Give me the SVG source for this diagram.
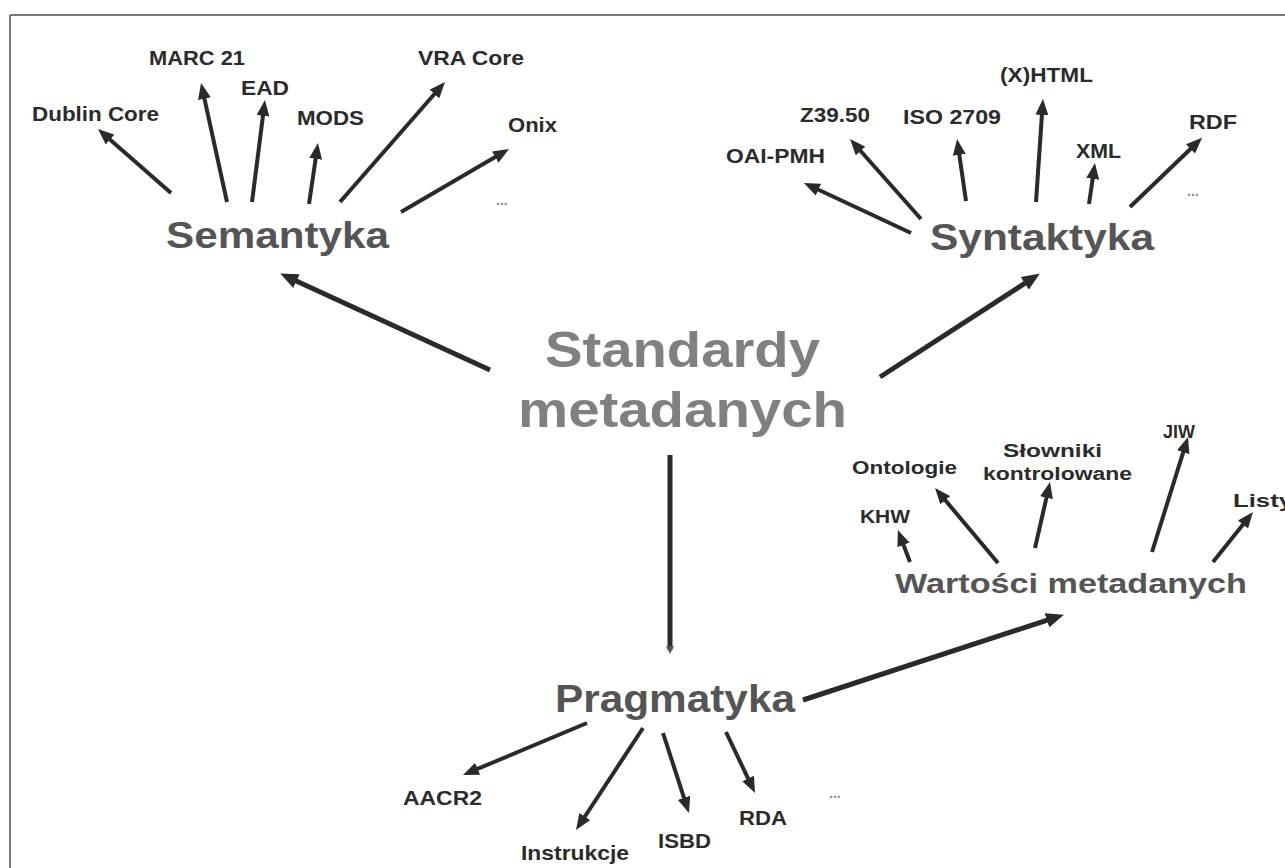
<svg xmlns="http://www.w3.org/2000/svg" width="1285" height="868" viewBox="0 0 1285 868">
<defs>
<marker id="ah" markerUnits="userSpaceOnUse" markerWidth="16" markerHeight="13" refX="10" refY="6.5" orient="auto"><path d="M0,0 L16,6.5 L0,13 z" fill="#2a2a2a"/></marker>
<marker id="ahL" markerUnits="userSpaceOnUse" markerWidth="18" markerHeight="15" refX="11" refY="7.5" orient="auto"><path d="M0,0 L18,7.5 L0,15 z" fill="#2a2a2a"/></marker>
<marker id="ahS" markerUnits="userSpaceOnUse" markerWidth="8" markerHeight="8" refX="4" refY="4" orient="auto"><path d="M0,0 L8,4 L0,8 z" fill="#555"/></marker>
</defs>
<style>
text{font-family:"Liberation Sans",Arial,sans-serif;font-weight:bold}
.lbl{font-size:21px;fill:#2b2b2b}
.sm{font-size:18px;fill:#2b2b2b}
.dots{font-size:14px;fill:#888}
.hub{font-size:36px;fill:#555}
.main{font-size:50px;fill:#808080}
.c{stroke:#2a2a2a;stroke-width:4;fill:none;marker-end:url(#ah)}
.m{stroke:#2a2a2a;stroke-width:5;fill:none;marker-end:url(#ahL)}
</style>
<rect width="1285" height="868" fill="#ffffff"/>
<g id="frame" stroke="#777" stroke-width="2" fill="none">
<line x1="10" y1="15" x2="1285" y2="15"/>
<line x1="10" y1="15" x2="10" y2="868"/>
</g>
<g id="connectors">
<line class="c" x1="171" y1="193" x2="102.5" y2="133"/>
<line class="c" x1="227" y1="202" x2="202.3" y2="88.9"/>
<line class="c" x1="252" y1="202" x2="264.2" y2="106"/>
<line class="c" x1="309" y1="204" x2="317.1" y2="149"/>
<line class="c" x1="340" y1="202" x2="441" y2="86.5"/>
<line class="c" x1="401" y1="212" x2="503.8" y2="152"/>
<line class="c" x1="911" y1="233" x2="809.4" y2="185.5"/>
<line class="c" x1="921" y1="219" x2="854" y2="143.5"/>
<line class="c" x1="966" y1="201" x2="957.9" y2="145"/>
<line class="c" x1="1036" y1="202" x2="1042.6" y2="105"/>
<line class="c" x1="1089" y1="204" x2="1094.1" y2="169"/>
<line class="c" x1="1130" y1="207" x2="1197.7" y2="142"/>
<line class="m" x1="490" y1="370" x2="286.5" y2="276.5"/>
<line class="m" x1="880" y1="377" x2="1034" y2="277.3"/>
<line x1="670" y1="455" x2="670" y2="650" stroke="#2a2a2a" stroke-width="5" marker-end="url(#ahS)"/>
<line class="m" x1="803" y1="700" x2="1057.3" y2="616.9"/>
<line class="c" x1="910" y1="562" x2="900" y2="535.6"/>
<line class="c" x1="998" y1="563" x2="938.9" y2="492.6"/>
<line class="c" x1="1035" y1="548" x2="1048.7" y2="487.9"/>
<line class="c" x1="1152" y1="552" x2="1186.2" y2="442.7"/>
<line class="c" x1="1213" y1="562" x2="1249.2" y2="516.7"/>
<line class="c" x1="587" y1="723" x2="468.5" y2="772.7"/>
<line class="c" x1="643" y1="728" x2="579.3" y2="825"/>
<line class="c" x1="663" y1="733" x2="687.1" y2="807.3"/>
<line class="c" x1="726" y1="732" x2="752.4" y2="787.6"/>
</g>
<g id="standardy">
<text class="main" x="545" y="367" textLength="275" lengthAdjust="spacingAndGlyphs">Standardy</text>
<text class="main" x="518" y="427" textLength="329" lengthAdjust="spacingAndGlyphs">metadanych</text>
</g>
<g id="semantyka">
<text class="hub" x="166" y="248" textLength="223" lengthAdjust="spacingAndGlyphs">Semantyka</text>
</g>
<g id="syntaktyka">
<text class="hub" x="930" y="250" textLength="224" lengthAdjust="spacingAndGlyphs">Syntaktyka</text>
</g>
<g id="pragmatyka">
<text class="hub" x="555" y="712" textLength="240" lengthAdjust="spacingAndGlyphs" style="font-size:38px">Pragmatyka</text>
</g>
<g id="wartosci">
<text class="hub" x="895" y="593" textLength="352" lengthAdjust="spacingAndGlyphs" style="font-size:28px">Wartości metadanych</text>
</g>
<g id="sem-children">
<text class="lbl" x="32" y="121" textLength="127" lengthAdjust="spacingAndGlyphs">Dublin Core</text>
<text class="lbl" x="149" y="65" textLength="96" lengthAdjust="spacingAndGlyphs">MARC 21</text>
<text class="lbl" x="241" y="95" textLength="48" lengthAdjust="spacingAndGlyphs">EAD</text>
<text class="lbl" x="297" y="125" textLength="67" lengthAdjust="spacingAndGlyphs">MODS</text>
<text class="lbl" x="418" y="65" textLength="106" lengthAdjust="spacingAndGlyphs">VRA Core</text>
<text class="lbl" x="508" y="132" textLength="49" lengthAdjust="spacingAndGlyphs">Onix</text>
<text class="dots" x="496" y="205">...</text>
</g>
<g id="syn-children">
<text class="lbl" x="1000" y="82" textLength="93" lengthAdjust="spacingAndGlyphs">(X)HTML</text>
<text class="lbl" x="800" y="122" textLength="70" lengthAdjust="spacingAndGlyphs">Z39.50</text>
<text class="lbl" x="903" y="124" textLength="98" lengthAdjust="spacingAndGlyphs">ISO 2709</text>
<text class="lbl" x="726" y="163" textLength="99" lengthAdjust="spacingAndGlyphs">OAI-PMH</text>
<text class="lbl" x="1076" y="158" textLength="45" lengthAdjust="spacingAndGlyphs">XML</text>
<text class="lbl" x="1189" y="129" textLength="48" lengthAdjust="spacingAndGlyphs">RDF</text>
<text class="dots" x="1187" y="196">...</text>
</g>
<g id="war-children">
<text class="sm" x="852" y="474" textLength="105" lengthAdjust="spacingAndGlyphs">Ontologie</text>
<text class="sm" x="1003" y="457" textLength="99" lengthAdjust="spacingAndGlyphs">Słowniki</text>
<text class="sm" x="983" y="480" textLength="149" lengthAdjust="spacingAndGlyphs">kontrolowane</text>
<text class="sm" x="1163" y="438" textLength="32" lengthAdjust="spacingAndGlyphs">JIW</text>
<text class="sm" x="860" y="523" textLength="50" lengthAdjust="spacingAndGlyphs">KHW</text>
<text class="sm" x="1233" y="507" textLength="60" lengthAdjust="spacingAndGlyphs">Listy</text>
</g>
<g id="prag-children">
<text class="lbl" x="403" y="805" textLength="79" lengthAdjust="spacingAndGlyphs">AACR2</text>
<text class="lbl" x="521" y="860" textLength="108" lengthAdjust="spacingAndGlyphs">Instrukcje</text>
<text class="lbl" x="658" y="848" textLength="53" lengthAdjust="spacingAndGlyphs">ISBD</text>
<text class="lbl" x="739" y="825" textLength="48" lengthAdjust="spacingAndGlyphs">RDA</text>
<text class="dots" x="829" y="798">...</text>
</g>
</svg>
